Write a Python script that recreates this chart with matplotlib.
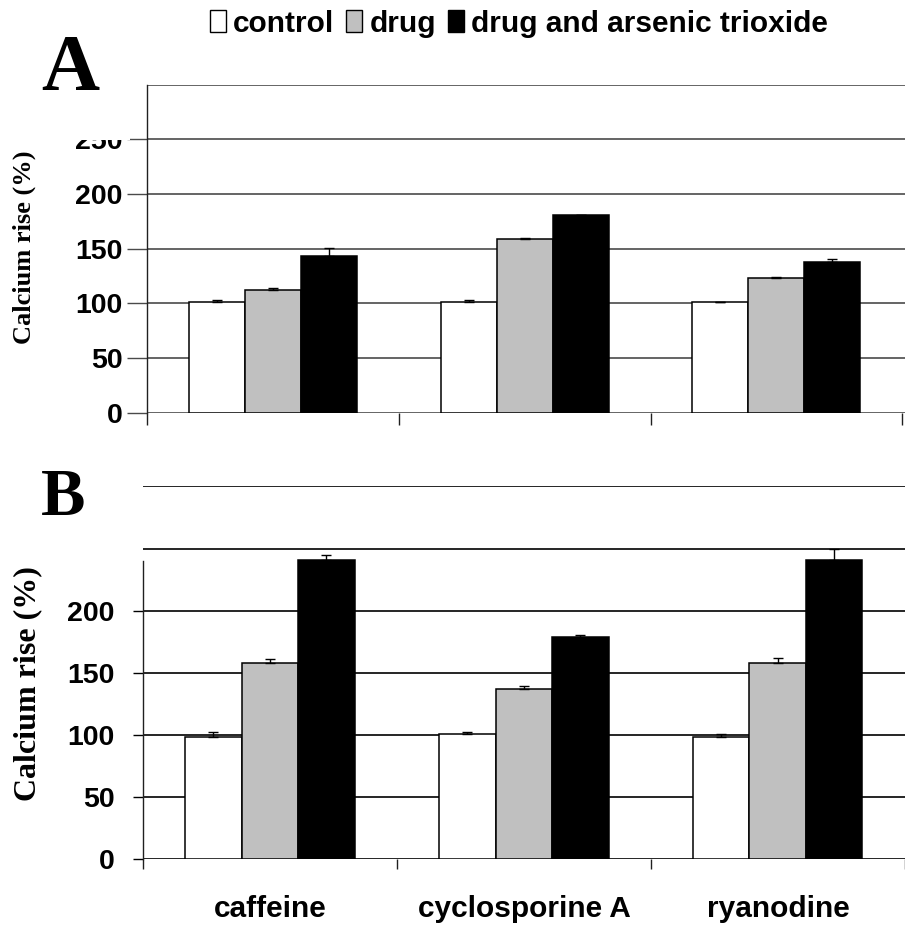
import matplotlib
matplotlib.use('Agg')
import matplotlib.pyplot as plt
import numpy as np
from matplotlib.patches import Patch, Rectangle

# ---------------- data ----------------
categories = ['caffeine', 'cyclosporine A', 'ryanodine']
series_names = ['control', 'drug', 'drug and arsenic trioxide']
series_colors = ['white', '#c0c0c0', 'black']

a_control = [101, 101, 101]
a_control_err = [1.5, 1.5, 0.5]
a_drug = [112, 159, 123]
a_drug_err = [2, 1, 1]
a_arsenic = [143.5, 180.5, 138]
a_arsenic_err = [7, 0.5, 2]

b_control = [98.5, 101, 98.5]
b_control_err = [3.5, 1.5, 2.5]
b_drug = [158, 137, 158]
b_drug_err = [3, 2.5, 3.5]
b_arsenic = [241, 178.5, 241]
b_arsenic_err = [3.5, 1.5, 9]

a_ticks = [0, 50, 100, 150, 200, 250]
b_ticks = [0, 50, 100, 150, 200]
grid_levels = [0, 50, 100, 150, 200, 250, 300]

SANS = ['Liberation Sans', 'DejaVu Sans']
SERIF = ['Liberation Serif', 'DejaVu Serif']
TICK_FS, CAT_FS, LEG_FS = 20.5, 21.5, 21.5

W, H = 905, 926
fig = plt.figure(figsize=(W / 100, H / 100), dpi=100)


def px_axes(left, bottom_px, top_px, right=W):
    return fig.add_axes([left / W, 1 - bottom_px / H, (right - left) / W,
                         (bottom_px - top_px) / H])


def draw_panel(ax, vals, errs, xmax, gridcolor, yticks, ytick_len, ytick_pad,
               spine_top, show_labels, xtick_len):
    x = np.arange(len(categories))
    offset, w = 0.165, 0.2225
    for j, (v, e) in enumerate(zip(vals, errs)):
        xs = x + offset + j * w
        ax.bar(xs, v, width=w, align='edge', color=series_colors[j],
               edgecolor='black', linewidth=1.1, zorder=3)
        ax.errorbar(xs + w / 2, v, yerr=[np.zeros(len(e)), e], fmt='none',
                    ecolor='black', elinewidth=1.0, capsize=3.8, capthick=1.0,
                    zorder=4, clip_on=True)
    for g in grid_levels:
        ax.axhline(g, color=gridcolor, lw=1.2, zorder=1)
    ax.set_xlim(0, xmax)
    ax.set_ylim(0, 300)
    for s in ['top', 'right', 'bottom']:
        ax.spines[s].set_visible(False)
    ax.spines['left'].set_bounds(0, spine_top)
    ax.spines['left'].set_color('#202020')
    ax.spines['left'].set_linewidth(1.0)
    ax.set_yticks(yticks)
    ax.set_yticklabels([str(t) for t in yticks])
    ax.tick_params(axis='y', length=ytick_len, width=1.0, pad=ytick_pad,
                   color=gridcolor)
    for lab in ax.get_yticklabels():
        lab.set_fontfamily(SANS)
        lab.set_fontweight('bold')
        lab.set_fontsize(TICK_FS)
    ax.set_xticks([0, 1, 2, 3])
    ax.set_xticklabels([])
    ax.tick_params(axis='x', which='major', length=xtick_len, width=1.0,
                   direction='out', color='#202020')
    if show_labels:
        ax.set_xticks(x + 0.5, minor=True)
        ax.set_xticklabels(categories, minor=True)
        ax.tick_params(axis='x', which='minor', length=0, pad=26)
        for lab in ax.get_xticklabels(minor=True):
            lab.set_fontfamily(SANS)
            lab.set_fontweight('bold')
            lab.set_fontsize(CAT_FS)
    ax.set_facecolor('none')


axA = px_axes(147.3, 412.6, 84.5)
draw_panel(axA, [a_control, a_drug, a_arsenic],
           [a_control_err, a_drug_err, a_arsenic_err],
           (W - 147.3) / 251.7, '#4a4a4a', a_ticks, 14.4, 3.5, 300, False, 8.5)

axB = px_axes(143.3, 859.0, 486.4)
draw_panel(axB, [b_control, b_drug, b_arsenic],
           [b_control_err, b_drug_err, b_arsenic_err],
           (W - 143.3) / 258.0, 'black', b_ticks, 7.2, 13.5, 240, True, 7.5)

# mask hiding the upper half of the top tick label in panel A
fig.add_artist(Rectangle((70 / W, 1 - 140 / H), 60 / W, 45 / H,
                         transform=fig.transFigure, facecolor='white',
                         edgecolor='none', zorder=10))

# panel letters
fig.text(70 / W, 1 - 90 / H, 'A', ha='center', va='baseline',
         fontfamily=SERIF, fontweight='bold', fontsize=58)
fig.text(63 / W, 1 - 515 / H, 'B', ha='center', va='baseline',
         fontfamily=SERIF, fontweight='bold', fontsize=48)

# y labels
fig.text(24 / W, 1 - 247 / H, 'Calcium rise (%)', rotation=90, ha='center',
         va='center', fontfamily=SERIF, fontweight='bold', fontsize=19)
fig.text(28 / W, 1 - 684 / H, 'Calcium rise (%)', rotation=90, ha='center',
         va='center', fontfamily=SERIF, fontweight='bold', fontsize=23)

# legend
handles = [Patch(facecolor=c, edgecolor='black', linewidth=1.0)
           for c in series_colors]
fig.legend(handles, series_names, loc='center',
           bbox_to_anchor=(519 / W, 1 - 23.5 / H), ncol=3, frameon=False,
           prop={'family': SANS, 'weight': 'bold', 'size': LEG_FS},
           handlelength=0.53, handleheight=0.72, handletextpad=0.25,
           columnspacing=0.4, borderpad=0, borderaxespad=0)

fig.savefig('out.png', dpi=100, facecolor='white')
